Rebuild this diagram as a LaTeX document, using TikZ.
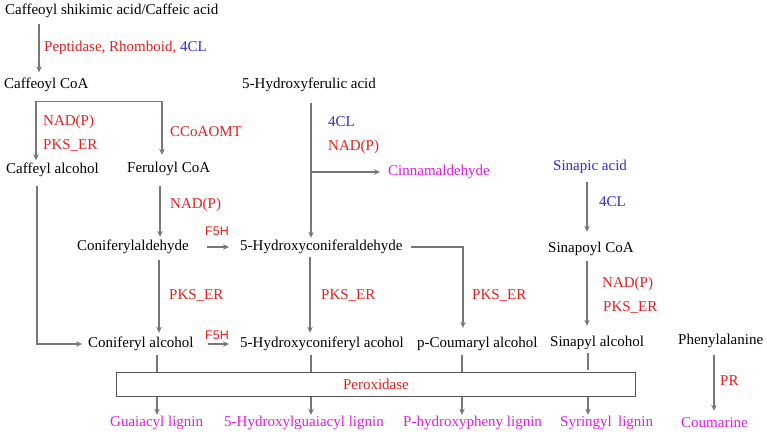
\documentclass[tikz,border=0pt]{standalone}
\usepackage{fontspec}
\setmainfont{Liberation Serif}
\newfontfamily\sansf{Liberation Sans}
\usetikzlibrary{arrows.meta}
\definecolor{myred}{HTML}{E62020}
\definecolor{myblue}{HTML}{2E2ECF}
\definecolor{mymag}{HTML}{E619E6}
\definecolor{arrgray}{HTML}{777777}
\definecolor{boxgray}{HTML}{555555}
\tikzset{
  txt/.style={anchor=west, inner sep=0pt, text height=10pt, text depth=3pt, font=\fontsize{15}{18}\selectfont},
  blk/.style={txt, text=black},
  redl/.style={txt, text=myred},
  bluel/.style={txt, text=myblue},
  magl/.style={txt, text=mymag},
  f5h/.style={anchor=west, inner sep=0pt, text height=9pt, text depth=2pt, text=myred, font=\sansf\fontsize{12.5}{15}\selectfont},
  arr/.style={draw=arrgray, line width=1.6pt, -{Stealth[length=6pt,width=5.5pt]}},
  arrb/.style={draw=arrgray, line width=1.6pt, {Stealth[length=6pt,width=5.5pt]}-{Stealth[length=6pt,width=5.5pt]}},
  ln/.style={draw=arrgray, line width=1.6pt},
  pbox/.style={draw=boxgray, line width=0.9pt, anchor=north west, minimum width=519pt, minimum height=24pt, inner sep=0pt, text=myred, font=\fontsize{15}{18}\selectfont}
}
\begin{document}
\begin{tikzpicture}[x=1pt,y=1pt]
\useasboundingbox[fill=white] (0,0) rectangle (767,-437);
% main compounds
\node[blk] (cs) at (5,-11) {Caffeoyl shikimic acid/Caffeic acid};
\node[blk] (cc) at (4,-85) {Caffeoyl CoA};
\node[blk] (ca) at (6,-170) {Caffeyl alcohol};
\node[blk] (fc) at (127,-169) {Feruloyl CoA};
\node[blk] (hfa) at (242,-85) {5-Hydroxyferulic acid};
\node[blk] (cald) at (77,-247) {Coniferylaldehyde};
\node[blk] (hcald) at (240,-247) {5-Hydroxyconiferaldehyde};
\node[blk] (calc) at (88,-344) {Coniferyl alcohol};
\node[blk] (hcalc) at (240,-344) {5-Hydroxyconiferyl acohol};
\node[blk] (pca) at (417,-344) {p-Coumaryl alcohol};
\node[bluel] (sa) at (553,-167) {Sinapic acid};
\node[blk] (sc) at (548,-249) {Sinapoyl CoA};
\node[blk] (sal) at (550,-343) {Sinapyl alcohol};
\node[blk] (phe) at (678,-341) {Phenylalanine};
\node[magl] (cin) at (388,-172) {Cinnamaldehyde};
% enzyme labels
\node[redl] (l1) at (44,-48) {Peptidase, Rhomboid, \textcolor{myblue}{4CL}};
\node[redl] (l2) at (43,-122) {NAD(P)};
\node[redl] (l3) at (43,-146) {PKS\_ER};
\node[redl] (l4) at (170,-133) {CCoAOMT};
\node[redl] (l5) at (170,-205) {NAD(P)};
\node[bluel] (l6) at (328,-123) {4CL};
\node[redl] (l7) at (328,-147) {NAD(P)};
\node[f5h] (f1) at (205,-232) {F5H};
\node[f5h] (f2) at (205,-336) {F5H};
\node[redl] (l8) at (169,-296) {PKS\_ER};
\node[redl] (l9) at (321,-296) {PKS\_ER};
\node[redl] (l10) at (472,-296) {PKS\_ER};
\node[bluel] (l11) at (599,-203) {4CL};
\node[redl] (l12) at (602,-284) {NAD(P)};
\node[redl] (l13) at (603,-308) {PKS\_ER};
\node[redl] (pr) at (720,-382) {PR};
% peroxidase box
\node[pbox] (box) at (116,-372) {Peroxidase};
% products
\node[magl] (guai) at (110,-423) {Guaiacyl lignin};
\node[magl] (hg) at (224,-423) {5-Hydroxylguaiacyl lignin};
\node[magl] (ph) at (403,-423) {P-hydroxypheny lignin};
\node[magl] (syr) at (560,-423) {Syringyl\, lignin};
\node[magl] (coum) at (681,-424) {Coumarine};
% connectors
\draw[arr] ([xshift=34pt,yshift=-6pt]cs.south west) -- ([xshift=35pt,yshift=6pt]cc.north west);
\draw[arrb] ([xshift=30pt,yshift=3pt]ca.north west) -- ++(0,59) -| ([xshift=35pt,yshift=7.5pt]fc.north west);
\draw[arr] ([xshift=31pt,yshift=-9.5pt]ca.south west) |- ([xshift=-6pt]calc.west);
\draw[arr] ([xshift=33pt,yshift=-10pt]fc.south west) -- ([xshift=83pt,yshift=3.5pt]cald.north west);
\draw[arr] ([xshift=18pt]cald.east) -- ([xshift=-11pt]hcald.west);
\draw[arr] ([xshift=14pt]calc.east) -- ([xshift=-11pt]hcalc.west);
\draw[arr] ([xshift=82pt,yshift=-6.5pt]cald.south west) -- ([xshift=71pt,yshift=4.5pt]calc.north west);
\draw[arr] ([xshift=69pt,yshift=-11.5pt]hfa.south west) -- ([xshift=71pt,yshift=2.5pt]hcald.north west);
\coordinate (hx) at (311,-172);
\draw[arr] (hx) -- ([xshift=-8pt]cin.west);
\draw[arr] ([xshift=70pt,yshift=-3.5pt]hcald.south west) -- ([xshift=70pt,yshift=4.5pt]hcalc.north west);
\draw[arr] ([xshift=8pt]hcald.east) -| ([xshift=46pt,yshift=9.5pt]pca.north west);
\draw[arr] ([xshift=34pt,yshift=-8.5pt]sa.south west) -- ([xshift=39pt,yshift=10.5pt]sc.north west);
\draw[arr] ([xshift=39pt,yshift=-5.5pt]sc.south west) -- ([xshift=37pt,yshift=10.5pt]sal.north west);
\draw[arr] ([xshift=36pt,yshift=-7.5pt]phe.south west) -- ([xshift=33pt,yshift=6.5pt]coum.north west);
% into the box
\draw[ln] ([xshift=69pt,yshift=-4.5pt]calc.south west) -- ++(0,-17);
\draw[ln] ([xshift=71pt,yshift=-4.5pt]hcalc.south west) -- ++(0,-17);
\draw[ln] ([xshift=45pt,yshift=-4.5pt]pca.south west) -- ++(0,-17);
\draw[ln] ([xshift=38pt,yshift=-3.5pt]sal.south west) -- ++(0,-17);
% out of the box
\draw[arr] ([xshift=41pt]box.south west) -- ([xshift=47pt,yshift=1.5pt]guai.north west);
\draw[arr] ([xshift=195pt]box.south west) -- ([xshift=87pt,yshift=1.5pt]hg.north west);
\draw[arr] ([xshift=346pt]box.south west) -- ([xshift=59pt,yshift=1.5pt]ph.north west);
\draw[arr] ([xshift=472pt]box.south west) -- ([xshift=28pt,yshift=1.5pt]syr.north west);
\end{tikzpicture}
\end{document}
